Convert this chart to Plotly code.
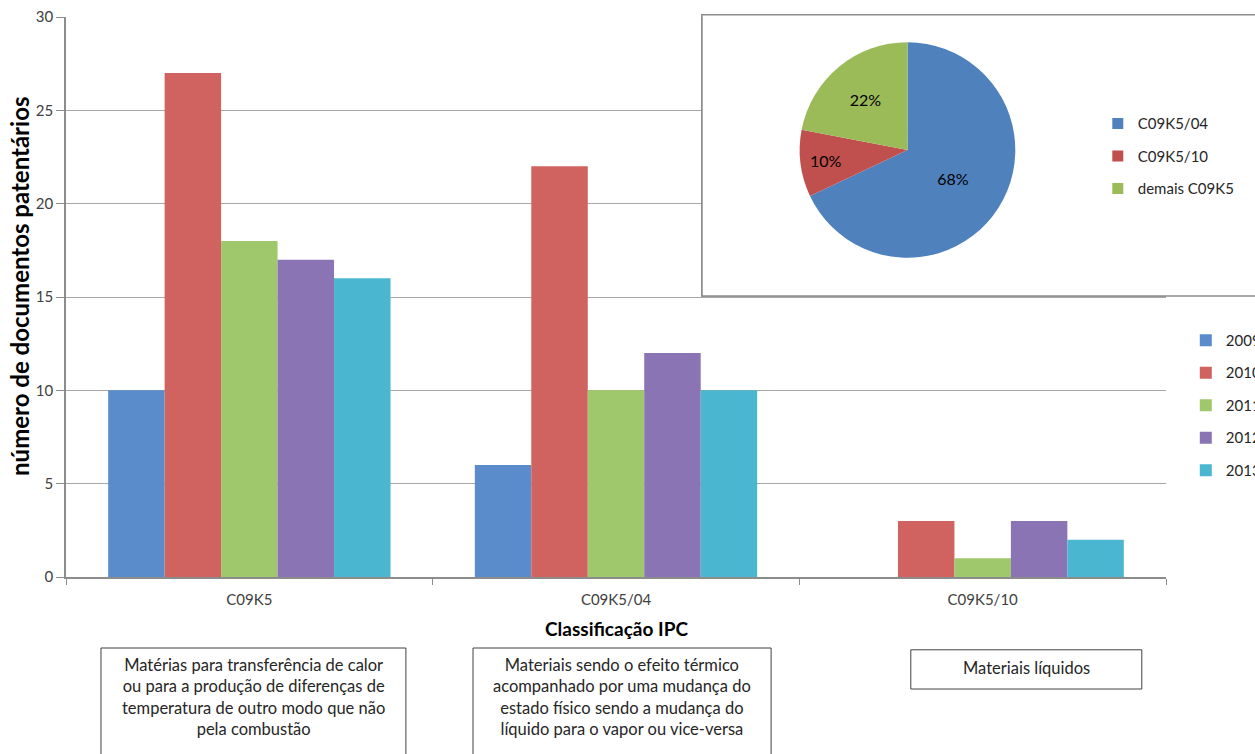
import plotly.graph_objects as go

# Patent documents per IPC class and year
categories = ["C09K5", "C09K5/04", "C09K5/10"]
years = ["2009", "2010", "2011", "2012", "2013"]
counts_2009 = [10, 6, 0]
counts_2010 = [27, 22, 3]
counts_2011 = [18, 10, 1]
counts_2012 = [17, 12, 3]
counts_2013 = [16, 10, 2]
year_colors = ["#5a8ccb", "#d0625f", "#9fc76c", "#8a74b4", "#4bb6cf"]

# Share of the C09K5 documents by subgroup
pie_labels = ["C09K5/04", "C09K5/10", "demais C09K5"]
pie_values = [68, 10, 22]
pie_colors = ["#4F81BD", "#C0504D", "#9BBB59"]

# Class descriptions shown below the axis
descriptions = [
    "Matérias para transferência de calor<br>ou para a produção de diferenças de<br>"
    "temperatura de outro modo que não<br>pela combustão",
    "Materiais sendo o efeito térmico<br>acompanhado por uma mudança do<br>"
    "estado físico sendo a mudança do<br>líquido para o vapor ou vice-versa",
    "Materiais líquidos",
]

FONT = "Lato, Open Sans, sans-serif"
TXT = "#262626"

fig = go.Figure()
series = [counts_2009, counts_2010, counts_2011, counts_2012, counts_2013]
for year, vals, col in zip(years, series, year_colors):
    fig.add_trace(go.Bar(
        x=categories, y=vals, name=year, legendgroup=year,
        marker=dict(color=col, line=dict(width=0)),
        legend="legend",
    ))

fig.add_trace(go.Pie(
    labels=pie_labels, values=pie_values, sort=False, direction="clockwise",
    rotation=0, marker=dict(colors=pie_colors, line=dict(color="white", width=0)),
    textinfo="percent", texttemplate="%{percent:.0%}",
    insidetextfont=dict(color="black", size=16, family=FONT),
    textposition="inside",
    domain=dict(x=[0.665, 0.865], y=[0.57, 0.955]),
    showlegend=False,
))

# legend entries for the pie slices (one per slice so they can be spaced out)
for lab, col in zip(pie_labels, pie_colors):
    fig.add_trace(go.Scatter(
        x=[None], y=[None], name=lab, legendgroup=lab, mode="markers",
        marker=dict(color=col, symbol="square", size=11),
        legend="legend2", showlegend=True,
    ))

shapes = [
    # inset frame: full outline under the plot area ...
    dict(type="rect", xref="paper", yref="paper", layer="below",
         x0=0.578, x1=1.12, y0=0.502, y1=1.004,
         fillcolor="white", line=dict(color="#8c8c8c", width=1.5)),
    # ... and a white panel over the gridlines inside the plot area
    dict(type="rect", xref="x", yref="y", layer="between",
         x0=1.2345, x1=2.9, y0=15.05, y1=31,
         fillcolor="white", line=dict(color="#8c8c8c", width=1.5)),
    # description boxes
    dict(type="rect", xref="paper", yref="paper", x0=0.0318, x1=0.309,
         y0=-0.36, y1=-0.1268, line=dict(color="#404040", width=1), fillcolor="white",
         layer="below"),
    dict(type="rect", xref="paper", yref="paper", x0=0.37, x1=0.641,
         y0=-0.36, y1=-0.1268, line=dict(color="#404040", width=1), fillcolor="white",
         layer="below"),
    dict(type="rect", xref="paper", yref="paper", x0=0.768, x1=0.978,
         y0=-0.200, y1=-0.130, line=dict(color="#404040", width=1), fillcolor="white",
         layer="below"),
]

desc_font = dict(size=16.5, family=FONT, color=TXT)
annotations = [
    dict(text=descriptions[0], x=0.1705, y=-0.214, xref="paper", yref="paper",
         xanchor="center", yanchor="middle", showarrow=False, font=desc_font,
         align="center"),
    dict(text=descriptions[1], x=0.5055, y=-0.214, xref="paper", yref="paper",
         xanchor="center", yanchor="middle", showarrow=False, font=desc_font,
         align="center"),
    dict(text=descriptions[2], x=0.873, y=-0.1625, xref="paper", yref="paper",
         xanchor="center", yanchor="middle", showarrow=False, font=desc_font,
         align="center"),
    dict(text="<b>Classificação IPC</b>", x=0.5, y=-0.0911, xref="paper", yref="paper",
         xanchor="center", yanchor="middle", showarrow=False,
         font=dict(size=19, family=FONT, color="black")),
    dict(text="<b>número de documentos patentários</b>", x=-0.0418, y=0.518,
         xref="paper", yref="paper", xanchor="center", yanchor="middle",
         textangle=-90, showarrow=False,
         font=dict(size=24, family=FONT, color="black")),
]

fig.update_layout(
    width=1255, height=754,
    margin=dict(l=66, r=89, t=17, b=177, autoexpand=False),
    paper_bgcolor="white", plot_bgcolor="rgba(0,0,0,0)",
    barmode="group", bargap=0.23, bargroupgap=0,
    font=dict(family=FONT, size=15, color=TXT),
    shapes=shapes, annotations=annotations,
    legend=dict(x=1.018, y=0.452, xanchor="left", yanchor="top",
                font=dict(size=15, family=FONT, color=TXT),
                traceorder="grouped", tracegroupgap=10, bgcolor="rgba(0,0,0,0)"),
    legend2=dict(x=0.938, y=0.839, xanchor="left", yanchor="top",
                 font=dict(size=15, family=FONT, color=TXT),
                 traceorder="grouped", tracegroupgap=10, bgcolor="rgba(0,0,0,0)"),
    xaxis=dict(range=[-0.5, 2.5], autorange=False,
               showgrid=False, showline=True, linecolor="#8c8c8c", linewidth=1.5,
               ticks="outside", tickson="boundaries", ticklen=6, tickcolor="#8c8c8c",
               ticklabelstandoff=8,
               tickfont=dict(size=15, color="#404040"), automargin=False),
    yaxis=dict(range=[0, 30], dtick=5, showgrid=True, gridcolor="#a6a6a6", gridwidth=1,
               showline=True, linecolor="#8c8c8c", linewidth=1.5,
               ticks="outside", ticklen=8, tickcolor="#8c8c8c",
               tickfont=dict(size=15, color="#404040"), zeroline=False, automargin=False),
)

fig.write_html("out.html")
